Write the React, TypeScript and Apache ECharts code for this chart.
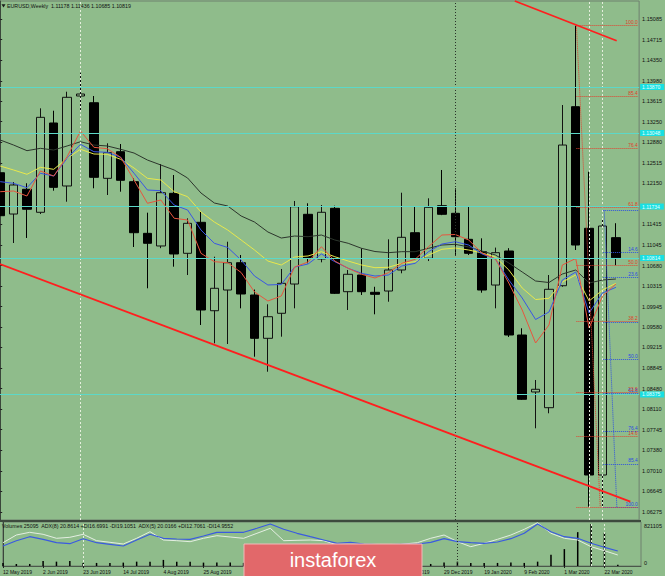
import React, { useEffect, useRef } from 'react';
import * as echarts from 'echarts';

// ---- data (weekly EURUSD, index 0 = week of 12 May 2019) ----
const opens = [1.12338, 1.11600, 1.12042, 1.11631, 1.13227, 1.12101, 1.13709, 1.13589, 1.12238, 1.12714, 1.12178, 1.11255, 1.11029, 1.11970, 1.10898, 1.11452, 1.09872, 1.10242, 1.10730, 1.10153, 1.09379, 1.09826, 1.10349, 1.11595, 1.10796, 1.11702, 1.10212, 1.10510, 1.10201, 1.10224, 1.10600, 1.11266, 1.10809, 1.11749, 1.11613, 1.11148, 1.10927, 1.10331, 1.10939, 1.09438, 1.08420, 1.08139, 1.10319, 1.13518, 1.11345, 1.06936, 1.11178];
const highs = [1.12624, 1.12172, 1.12150, 1.13489, 1.13446, 1.13786, 1.14125, 1.13709, 1.12864, 1.12851, 1.12240, 1.11624, 1.12494, 1.12297, 1.11523, 1.11641, 1.10837, 1.11105, 1.10868, 1.10250, 1.09987, 1.10618, 1.11833, 1.11792, 1.11761, 1.11749, 1.10600, 1.10987, 1.10300, 1.11148, 1.11981, 1.11731, 1.11881, 1.12387, 1.12060, 1.11731, 1.11166, 1.11000, 1.10990, 1.09558, 1.08634, 1.10510, 1.13548, 1.14965, 1.12356, 1.11493, 1.11436];
const lows = [1.11493, 1.11082, 1.11172, 1.11600, 1.12017, 1.11820, 1.13459, 1.12060, 1.11940, 1.11999, 1.11011, 1.10273, 1.10990, 1.10659, 1.10510, 1.09617, 1.09290, 1.09277, 1.09915, 1.09050, 1.08782, 1.09408, 1.09915, 1.10719, 1.10737, 1.10171, 1.09885, 1.10153, 1.09808, 1.10033, 1.10541, 1.10778, 1.10760, 1.11580, 1.10870, 1.10868, 1.10194, 1.09915, 1.09403, 1.08277, 1.07771, 1.08039, 1.10300, 1.10957, 1.06370, 1.06370, 1.10685];
const closes = [1.11570, 1.12119, 1.11685, 1.13328, 1.12077, 1.13686, 1.13745, 1.12256, 1.12696, 1.12203, 1.11266, 1.11077, 1.11981, 1.10886, 1.11434, 1.09885, 1.10273, 1.10730, 1.10171, 1.09379, 1.09765, 1.10362, 1.11731, 1.10809, 1.11631, 1.10183, 1.10523, 1.10212, 1.10165, 1.10600, 1.11184, 1.10809, 1.11720, 1.11595, 1.11195, 1.10898, 1.10242, 1.10909, 1.09438, 1.08289, 1.08468, 1.10255, 1.12833, 1.11046, 1.06936, 1.11386, 1.10819];

const maBlack = [1.12923, 1.12833, 1.12732, 1.12774, 1.12744, 1.12816, 1.12892, 1.12833, 1.12816, 1.12757, 1.12690, 1.12565, 1.12476, 1.12387, 1.12244, 1.11976, 1.11797, 1.11743, 1.11565, 1.11457, 1.11279, 1.11171, 1.11207, 1.11195, 1.11225, 1.11136, 1.11077, 1.10987, 1.10930, 1.10909, 1.10927, 1.10927, 1.10987, 1.11046, 1.11059, 1.11011, 1.10939, 1.10868, 1.10725, 1.10564, 1.10403, 1.10376, 1.10528, 1.10600, 1.10367, 1.10421, 1.10439];
const maYellow = [1.12458, 1.12387, 1.12310, 1.12435, 1.12399, 1.12596, 1.12757, 1.12673, 1.12667, 1.12578, 1.12422, 1.12238, 1.12208, 1.11999, 1.11910, 1.11636, 1.11457, 1.11314, 1.11136, 1.10957, 1.10760, 1.10689, 1.10832, 1.10850, 1.10927, 1.10837, 1.10760, 1.10689, 1.10641, 1.10648, 1.10719, 1.10748, 1.10868, 1.10970, 1.10993, 1.10957, 1.10903, 1.10832, 1.10600, 1.10278, 1.10072, 1.10094, 1.10385, 1.10510, 1.10046, 1.10242, 1.10362];
const maBlue = [1.12178, 1.12149, 1.12070, 1.12328, 1.12279, 1.12596, 1.12846, 1.12714, 1.12703, 1.12614, 1.12328, 1.12029, 1.12017, 1.11761, 1.11672, 1.11314, 1.11077, 1.11002, 1.10778, 1.10492, 1.10332, 1.10341, 1.10653, 1.10707, 1.10886, 1.10748, 1.10630, 1.10541, 1.10492, 1.10510, 1.10671, 1.10719, 1.10927, 1.11064, 1.11105, 1.11046, 1.10886, 1.10796, 1.10421, 1.10099, 1.09715, 1.09849, 1.10421, 1.10564, 1.09831, 1.10189, 1.10290];
const maRed = [1.11999, 1.12011, 1.11922, 1.12369, 1.12279, 1.12624, 1.13084, 1.12792, 1.12767, 1.12614, 1.12208, 1.11792, 1.11851, 1.11524, 1.11493, 1.10898, 1.10748, 1.10730, 1.10555, 1.10207, 1.10046, 1.10135, 1.10653, 1.10743, 1.11016, 1.10760, 1.10630, 1.10523, 1.10457, 1.10551, 1.10719, 1.10791, 1.11016, 1.11225, 1.11234, 1.11136, 1.10903, 1.10796, 1.10367, 1.09885, 1.09295, 1.09617, 1.10689, 1.10805, 1.09563, 1.10135, 1.10349];

const volumes = [60000, 40000, 40000, 99000, 85000, 99000, 60000, 60000, 60000, 66000, 85000, 85000, 119000, 85000, 85000, 66000, 66000, 66000, 62000, 60000, 64000, 58000, 62000, 60000, 58000, 62000, 56000, 54000, 52000, 56000, 50000, 48000, 40000, 66000, 85000, 60000, 60000, 60000, 66000, 60000, 85000, 219000, 330000, 662000, 821105, 648000, 25095];
const adxBlue = [20, 25.3, 29.3, 26.7, 23.3, 22.3, 27.3, 23.3, 21.7, 20, 26, 31.7, 27.7, 27, 26.7, 30, 33.7, 33.7, 33.7, 37.7, 42, 36.7, 32.7, 29.3, 26, 22.7, 23.7, 22, 21.3, 21.3, 21.7, 22, 23.7, 27.3, 24.3, 23.3, 22.7, 24, 27.3, 32.7, 42, 34.3, 29.3, 27.7, 22.7, 18.7, 15];
const adxWhite = [23.3, 31, 33.7, 31.7, 27.7, 28.7, 31.7, 25.3, 23.7, 22, 27.7, 34.3, 26, 25.3, 24.3, 27.7, 30.3, 29, 27.7, 32.7, 37.7, 25.3, 25.7, 26, 25.3, 21, 20, 19.3, 19.3, 20, 22, 23.3, 27.7, 31, 24.3, 19.3, 22.7, 26.7, 31, 36.7, 43.3, 32.7, 27.7, 26, 19.3, 15.3, 11];

const priceTicks = [1.15085, 1.14715, 1.14350, 1.13980, 1.13615, 1.13250, 1.12880, 1.12515, 1.12150, 1.11415, 1.11045, 1.10680, 1.10315, 1.09945, 1.09580, 1.09215, 1.08845, 1.08480, 1.08110, 1.07745, 1.07380, 1.07010, 1.06645, 1.06275];
// labels of 15 Sep .. 17 Nov 2019 are hidden under the watermark in the reference
const dateIdx = [0, 3, 6, 9, 12, 15, 30, 33, 36, 39, 42, 45];
const dateLabels = ['12 May 2019', '2 Jun 2019', '23 Jun 2019', '14 Jul 2019', '4 Aug 2019', '25 Aug 2019', '8 Dec 2019', '29 Dec 2019', '19 Jan 2020', '9 Feb 2020', '1 Mar 2020', '22 Mar 2020'];
const volAxisLabels = ['821105', '0'];

const cyanLevels = [1.13870, 1.13048, 1.11734, 1.10814, 1.08375];
const lowerTrend = [[-0.015, 1.10707], [47.08, 1.06462]];
const upperTrend = [[38.45, 1.15407], [46.06, 1.14697]];

const redFibNames = ['100.0', '85.4', '76.4', '61.8', '50.0', '38.2', '23.6', '14.6'];
const redFibPrices = [1.14965, 1.13696, 1.12774, 1.11716, 1.10680, 1.09688, 1.08411, 1.07620];
const redFibZero = 1.06364;
const redFibSpan = [43.05, 47.66];
const redFibDiag = [[43.05, 1.14965], [44.83, 1.06364]];

const blueFibNames = ['0.0', '14.6', '23.6', '38.2', '50.0', '61.8', '76.4', '85.4', '100.0'];
const blueFibPrices = [1.11663, 1.10921, 1.10462, 1.09661, 1.09000, 1.08393, 1.07710, 1.07133, 1.06364];
const blueFibLabelled = [false, true, true, false, true, true, true, true, true];
const blueFibSpan = [45.05, 47.66];
const blueFibDiag = [[45.13, 1.11663], [46.07, 1.06364]];

const lightVerticals = [6, 44, 45];
const darkVerticals = [34];

const headerText = 'EURUSD,Weekly  1.11178 1.11436 1.10685 1.10819';
const indicatorText = 'Volumes 25095  ADX(8) 20.8614 +DI16.6991 -DI19.1051  ADX(5) 20.0166 +DI12.7061 -DI14.9552';

// ---- styling ----
const BG = '#8fbc8b';
const FONT = 'Liberation Sans, Arial, sans-serif';
const XMIN = -0.015;
const XMAX = 47.735;

function buildOption(): any {
  const candleData = opens.map((o, i) => [i, o, closes[i], lows[i], highs[i]]);
  const toXY = (arr: number[]) => arr.map((v, i) => [i, v]);
  const maLine = (arr: number[], color: string) => ({
    type: 'line', xAxisIndex: 0, yAxisIndex: 0, data: toXY(arr), symbol: 'none',
    lineStyle: { color, width: 1 }, z: 4, silent: true,
  });
  const verticalMarks = (gridIdx: number) => ({
    type: 'line', xAxisIndex: gridIdx, yAxisIndex: gridIdx, data: [], z: 1, silent: true,
    markLine: {
      silent: true, symbol: ['none', 'none'], label: { show: false }, precision: 5,
      lineStyle: { width: 1, type: [2, 2] },
      data: [
        ...lightVerticals.map((x) => ({ xAxis: x, lineStyle: { color: '#e4eedc', width: 1, type: [2, 2] } })),
        ...darkVerticals.map((x) => ({ xAxis: x, lineStyle: { color: '#2a322a', width: 1, type: [1, 2] } })),
      ],
    },
  });

  const redFibData: any[] = redFibNames.map((n, k) => [
    { coord: [redFibSpan[0], redFibPrices[k]], name: n },
    { coord: [redFibSpan[1], redFibPrices[k]] },
  ]);
  redFibData.push([
    { coord: [redFibSpan[0], redFibZero], name: '', label: { show: false } },
    { coord: [redFibSpan[1], redFibZero], label: { show: false } },
  ]);
  const blueFibData: any[] = blueFibNames.map((n, k) => [
    { coord: [blueFibSpan[0], blueFibPrices[k]], name: n, label: { show: blueFibLabelled[k] } },
    { coord: [blueFibSpan[1], blueFibPrices[k]], label: { show: blueFibLabelled[k] } },
  ]);

  return {
    animation: false,
    backgroundColor: BG,
    grid: [
      { left: 0, top: 1, width: 641, height: 519, show: true, borderColor: '#6f806f', borderWidth: 1, backgroundColor: 'transparent' },
      { left: 0, top: 522, width: 641, height: 44, show: true, borderColor: '#6f806f', borderWidth: 1, backgroundColor: 'transparent' },
    ],
    xAxis: [
      { gridIndex: 0, type: 'value', min: XMIN, max: XMAX, show: false },
      {
        gridIndex: 1, type: 'value', min: XMIN, max: XMAX,
        axisLine: { show: true, lineStyle: { color: '#4a584a', width: 1 } },
        axisTick: { show: true, customValues: dateIdx, length: 2, lineStyle: { color: '#222' } },
        axisLabel: {
          customValues: dateIdx, align: 'left', fontSize: 5, color: '#111', margin: 3, fontFamily: FONT,
          formatter: (v: number) => dateLabels[dateIdx.indexOf(Math.round(v))] ?? '',
        },
        splitLine: { show: false },
      },
    ],
    yAxis: [
      {
        gridIndex: 0, type: 'value', min: 1.06132, max: 1.15407, position: 'right',
        axisLine: { show: true, lineStyle: { color: '#3a463a' } },
        axisTick: { show: true, customValues: priceTicks, length: 2, lineStyle: { color: '#222' } },
        axisLabel: {
          customValues: priceTicks, fontSize: 5.5, color: '#111', margin: 3, fontFamily: FONT,
          formatter: (v: number) => v.toFixed(5),
        },
        splitLine: { show: false },
      },
      {
        gridIndex: 1, type: 'value', min: 0, max: 860000, position: 'right',
        axisLine: { show: true, lineStyle: { color: '#3a463a' } },
        axisTick: { show: false }, axisLabel: { show: false }, splitLine: { show: false },
      },
      { gridIndex: 1, type: 'value', min: 0, max: 44, show: false },
    ],
    series: [
      verticalMarks(0),
      verticalMarks(1),
      {
        type: 'line', xAxisIndex: 0, yAxisIndex: 0, data: [], z: 1, silent: true, clip: false,
        markLine: {
          silent: true, symbol: ['none', 'none'], precision: 5,
          lineStyle: { color: '#5cd8c8', width: 1, type: 'solid' },
          label: {
            show: true, position: 'end', distance: 1, fontSize: 5, fontFamily: FONT,
            color: '#e8ffff', backgroundColor: '#18dfe2', padding: [0, 4, 0, 2], lineHeight: 6,
            formatter: (p: any) => Number(p.value).toFixed(5),
          },
          data: cyanLevels.map((v) => ({ yAxis: v })),
        },
      },
      {
        type: 'candlestick', xAxisIndex: 0, yAxisIndex: 0, data: candleData,
        encode: { x: 0, y: [1, 2, 3, 4] }, barWidth: 9, z: 3, silent: true,
        itemStyle: { color: BG, color0: '#000', borderColor: '#111', borderColor0: '#000', borderWidth: 1 },
      },
      maLine(maBlack, '#2c352c'),
      maLine(maYellow, '#e8e84c'),
      maLine(maBlue, '#3a56e4'),
      maLine(maRed, '#e8553e'),
      {
        type: 'line', xAxisIndex: 0, yAxisIndex: 0, data: [], z: 5, silent: true,
        markLine: {
          silent: true, symbol: ['none', 'none'], precision: 5,
          lineStyle: { color: '#2f52e0', width: 1, type: 'dotted' },
          label: { show: true, position: 'insideEndTop', distance: 0.5, formatter: '{b}', color: '#2a48e0', fontSize: 4.8, fontFamily: FONT },
          data: blueFibData,
        },
      },
      {
        type: 'line', xAxisIndex: 0, yAxisIndex: 0, data: [], z: 6, silent: true,
        markLine: {
          silent: true, symbol: ['none', 'none'], precision: 5,
          lineStyle: { color: '#e2402e', width: 1, type: 'dotted' },
          label: { show: true, position: 'insideEndTop', distance: 0.5, formatter: '{b}', color: '#e23a2a', fontSize: 4.8, fontFamily: FONT },
          data: redFibData,
        },
      },
      {
        type: 'line', xAxisIndex: 0, yAxisIndex: 0, data: redFibDiag, symbol: 'none', z: 5, silent: true,
        lineStyle: { color: '#e2402e', width: 1, type: 'dotted' },
      },
      {
        type: 'line', xAxisIndex: 0, yAxisIndex: 0, data: blueFibDiag, symbol: 'none', z: 5, silent: true,
        lineStyle: { color: '#2f52e0', width: 1, type: 'dotted' },
      },
      {
        type: 'line', xAxisIndex: 0, yAxisIndex: 0, data: lowerTrend, symbol: 'none', z: 6, silent: true,
        lineStyle: { color: '#ff1e1e', width: 1.8 },
      },
      {
        type: 'line', xAxisIndex: 0, yAxisIndex: 0, data: upperTrend, symbol: 'none', z: 6, silent: true,
        lineStyle: { color: '#ff1e1e', width: 1.8 },
      },
      {
        type: 'bar', xAxisIndex: 1, yAxisIndex: 1, data: toXY(volumes), barWidth: 1.5, z: 3, silent: true,
        itemStyle: { color: '#000' },
      },
      {
        type: 'line', xAxisIndex: 1, yAxisIndex: 2, data: toXY(adxWhite), symbol: 'none', z: 4, silent: true,
        lineStyle: { color: '#e4eee2', width: 1 },
      },
      {
        type: 'line', xAxisIndex: 1, yAxisIndex: 2, data: toXY(adxBlue), symbol: 'none', z: 4, silent: true,
        lineStyle: { color: '#3a5ae0', width: 1.2 },
      },
    ],
    graphic: [
      { type: 'line', shape: { x1: 0, y1: 521, x2: 641, y2: 521 }, style: { stroke: '#3d4a3d', lineWidth: 2 }, z: 50, silent: true },
      { type: 'polygon', shape: { points: [[1.5, 4.2], [5.5, 4.2], [3.5, 7.6]] }, style: { fill: '#1a1a1a' }, z: 50 },
      { type: 'text', x: 7, y: 6, style: { text: headerText, fontSize: 5.3, fill: '#111', fontFamily: FONT, verticalAlign: 'middle' }, z: 50 },
      { type: 'text', x: 2, y: 525.5, style: { text: indicatorText, fontSize: 5.3, fill: '#111', fontFamily: FONT, verticalAlign: 'middle' }, z: 50 },
      { type: 'text', x: 644, y: 525.5, style: { text: volAxisLabels[0], fontSize: 5.5, fill: '#111', fontFamily: FONT, verticalAlign: 'middle' }, z: 50 },
      { type: 'text', x: 644, y: 563, style: { text: volAxisLabels[1], fontSize: 5.5, fill: '#111', fontFamily: FONT, verticalAlign: 'middle' }, z: 50 },
      { type: 'rect', z: 100, zlevel: 1, shape: { x: 244, y: 544, width: 178, height: 40 }, style: { fill: '#e2686a', stroke: '#f2b8b8', lineWidth: 1 } },
      { type: 'text', z: 101, zlevel: 1, x: 333, y: 560, style: { text: 'instaforex', fontSize: 20, fill: '#ffffff', fontFamily: FONT, align: 'center', verticalAlign: 'middle' } },
    ],
  };
}

export default function App() {
  const ref = useRef<HTMLDivElement>(null);
  useEffect(() => {
    if (!ref.current) return;
    const chart = echarts.init(ref.current, undefined, { renderer: 'svg' });
    chart.setOption(buildOption());
    return () => chart.dispose();
  }, []);
  return <div ref={ref} style={{ position: 'fixed', left: 0, top: 0, width: 665, height: 576 }} />;
}
